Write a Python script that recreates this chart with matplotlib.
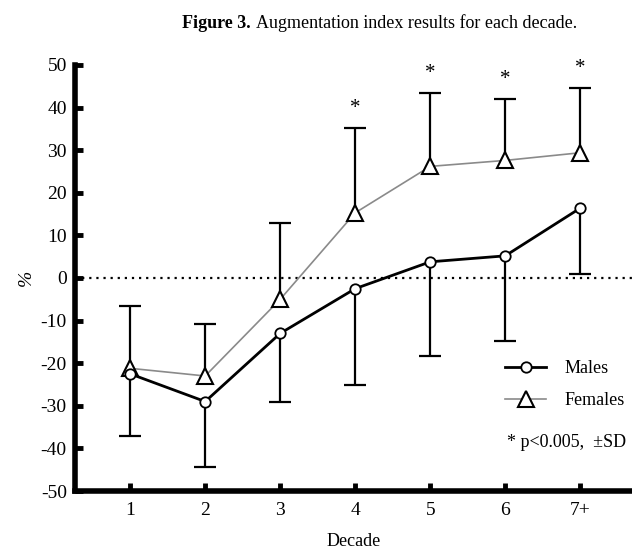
import matplotlib.pyplot as plt
import numpy as np

decades = ["1", "2", "3", "4", "5", "6", "7+"]
males = [-22.5, -29, -13, -2.5, 3.8, 5.2, 16.4]
males_sd = [14.5, 15.3, 16.0, 22.5, 22.0, 20.0, 15.4]
females = [-21.2, -23, -5, 15.3, 26.2, 27.6, 29.4]
females_sd = [14.6, 12.3, 17.8, 20.0, 17.2, 14.5, 15.2]
signif = [0, 0, 0, 1, 1, 1, 1]

plt.rcParams["font.family"] = ["Liberation Serif", "DejaVu Serif"]
plt.rcParams["axes.unicode_minus"] = False

fig = plt.figure(figsize=(6.32, 5.54), dpi=100)
ax = fig.add_axes([0.119, 0.1137, 0.881, 0.769])
x = np.arange(1, len(decades) + 1)
zeros = np.zeros(len(x))

# error bars: males go down, females go up (only the outer cap is kept)
_, caps_m, _ = ax.errorbar(x, males, yerr=[males_sd, zeros], fmt="none",
                           ecolor="black", elinewidth=1.6, capsize=8,
                           capthick=1.6, zorder=2)
caps_m[1].set_visible(False)
_, caps_f, _ = ax.errorbar(x, females, yerr=[zeros, females_sd], fmt="none",
                           ecolor="black", elinewidth=1.6, capsize=8,
                           capthick=1.6, zorder=2)
caps_f[0].set_visible(False)

fem_line, = ax.plot(x, females, color="#8a8a8a", lw=1.2, marker="^", ms=11,
                    mfc="white", mec="black", mew=1.5, zorder=3)
male_line, = ax.plot(x, males, color="black", lw=2, marker="o", ms=7.5,
                     mfc="white", mec="black", mew=1.3, zorder=4)

ax.axhline(0, color="black", lw=1.6, ls=(0, (1, 2.2)), zorder=1)

for xi, f, sd, s in zip(x, females, females_sd, signif):
    if s:
        ax.text(xi, f + sd + 4.5, "*", ha="center", va="center",
                fontsize=15, clip_on=False)

ax.set_xlim(0.267, 7.69)
ax.set_ylim(-50, 50)
ax.set_xticks(x)
ax.set_xticklabels(decades)
ax.set_yticks(np.arange(-50, 51, 10))
ax.tick_params(axis="both", direction="in", length=6, width=3.5,
               labelsize=14, pad=8)
ax.tick_params(axis="y", pad=6)
for side in ["top", "right"]:
    ax.spines[side].set_visible(False)
for side in ["left", "bottom"]:
    ax.spines[side].set_linewidth(4)

ax.set_xlabel("Decade", fontsize=13, labelpad=10)
ax.set_ylabel("%", fontsize=14, labelpad=4, style="italic")

ax.legend([male_line, fem_line], ["Males", "Females"],
          loc="lower right", bbox_to_anchor=(1.0, 0.175), frameon=False,
          fontsize=13, handlelength=2.3, labelspacing=0.85,
          handletextpad=1.0, borderaxespad=0)
ax.text(0.99, 0.115, "* p<0.005,  ±SD", transform=ax.transAxes, ha="right",
        va="center", fontsize=13)

fig.text(0.288, 0.958, "Figure 3.", ha="left", va="center",
         fontsize=13, fontweight="bold")
fig.text(0.405, 0.958, "Augmentation index results for each decade.",
         ha="left", va="center", fontsize=13)

fig.savefig("out.png", dpi=100)
